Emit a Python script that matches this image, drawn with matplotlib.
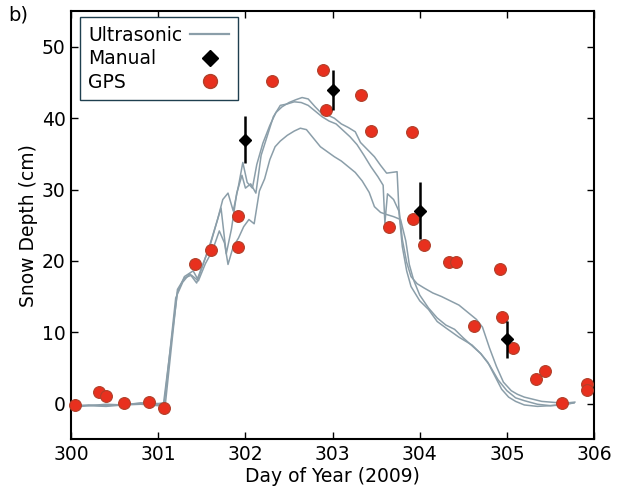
import matplotlib
matplotlib.use('Agg')
import matplotlib.pyplot as plt
from matplotlib.lines import Line2D

# Ultrasonic sensors (three traces), day of year / snow depth in cm
days_a = [300.03, 300.2, 300.4, 300.6, 300.8, 301.0, 301.06, 301.22, 301.3, 301.4,
          301.45, 301.52, 301.6, 301.68, 301.74, 301.8, 301.86, 301.92, 301.97, 302.02,
          302.08, 302.13, 302.2, 302.28, 302.35, 302.42, 302.5, 302.58, 302.65, 302.72,
          302.8, 302.88, 302.95, 303.02, 303.1, 303.18, 303.26, 303.32, 303.4, 303.48,
          303.55, 303.62, 303.68, 303.74, 303.76, 303.8, 303.85, 303.9, 303.97, 304.05,
          304.15, 304.25, 304.35, 304.45, 304.55, 304.65, 304.72, 304.8, 304.88, 304.96,
          305.05, 305.12, 305.2, 305.3, 305.4, 305.5, 305.6, 305.7, 305.78]
depth_a = [-0.4, -0.2, -0.3, -0.1, 0.0, -0.1, 0.0, 15.6, 17.8, 18.6,
           17.5, 19.8, 22.4, 25.8, 28.6, 29.5, 27.0, 30.5, 33.8, 31.0,
           30.2, 33.5, 36.5, 39.0, 40.8, 41.6, 42.2, 42.6, 42.9, 42.7,
           41.6, 40.6, 40.4, 40.0, 39.2, 38.7, 38.1, 36.6, 35.6, 34.6,
           33.4, 32.3, 32.4, 32.5, 27.5, 23.0, 19.8, 17.8, 16.8, 16.2,
           15.5, 15.0, 14.4, 13.8, 12.8, 11.8, 10.7, 7.8, 5.2, 3.0,
           1.8, 1.3, 0.9, 0.6, 0.3, 0.2, 0.1, 0.1, 0.2]

days_b = [300.03, 300.2, 300.4, 300.6, 300.8, 301.0, 301.07, 301.2, 301.28, 301.36,
          301.44, 301.5, 301.58, 301.65, 301.72, 301.78, 301.84, 301.9, 301.96, 302.0,
          302.06, 302.12, 302.18, 302.25, 302.32, 302.4, 302.48, 302.56, 302.64, 302.72,
          302.8, 302.88, 302.96, 303.04, 303.12, 303.2, 303.28, 303.36, 303.44, 303.52,
          303.58, 303.6, 303.63, 303.7, 303.76, 303.8, 303.85, 303.9, 304.0, 304.1,
          304.2, 304.3, 304.45, 304.6, 304.7, 304.8, 304.9, 305.0, 305.1, 305.2,
          305.35, 305.5, 305.65, 305.77]
depth_b = [-0.2, -0.3, -0.1, -0.2, 0.1, 0.0, 0.1, 14.8, 17.0, 18.2,
           16.9, 19.0, 21.8, 24.6, 27.4, 21.0, 24.5, 29.5, 32.0, 30.2,
           30.8, 29.5, 34.8, 37.5, 40.2, 41.8, 42.0, 42.3, 42.2, 41.8,
           41.0, 40.2, 39.6, 39.2, 38.3, 37.4, 36.3, 34.8, 33.2, 31.8,
           30.6, 25.3, 29.4, 28.6, 27.0, 22.0, 18.6, 16.4, 14.4, 13.2,
           11.5, 10.6, 9.3, 8.2, 7.0, 5.4, 3.3, 1.8, 0.8, 0.4,
           -0.1, -0.3, -0.1, 0.1]

days_c = [300.03, 300.2, 300.4, 300.6, 300.8, 301.0, 301.08, 301.22, 301.3, 301.38,
          301.46, 301.54, 301.62, 301.7, 301.76, 301.8, 301.86, 301.92, 301.98, 302.04,
          302.1, 302.16, 302.22, 302.28, 302.34, 302.4, 302.48, 302.56, 302.63, 302.7,
          302.78, 302.86, 302.94, 303.02, 303.1, 303.18, 303.26, 303.34, 303.42, 303.48,
          303.55, 303.62, 303.7, 303.78, 303.84, 303.88, 303.93, 304.0, 304.1, 304.2,
          304.3, 304.4, 304.5, 304.6, 304.7, 304.78, 304.86, 304.94, 305.02, 305.1,
          305.2, 305.35, 305.5, 305.65, 305.77]
depth_c = [-0.5, -0.3, -0.4, -0.2, -0.1, -0.3, -0.2, 16.0, 17.6, 18.0,
           17.2, 19.6, 21.4, 24.2, 22.5, 19.5, 22.0, 23.2, 24.8, 25.8,
           25.2, 29.8, 31.5, 34.2, 36.0, 36.8, 37.6, 38.2, 38.6, 38.4,
           37.2, 36.0, 35.3, 34.6, 34.0, 33.2, 32.4, 31.2, 29.6, 27.6,
           26.8, 26.5, 26.2, 25.8, 22.8, 19.5, 17.3, 15.2, 13.4, 12.0,
           11.0, 10.4, 9.2, 8.1, 7.0, 5.8, 3.9, 2.0, 0.9, 0.3,
           -0.2, -0.4, -0.3, -0.2, 0.1]

# Manual measurements with error bars
manual_day = [302.0, 303.0, 304.0, 305.0]
manual_depth = [37.0, 44.0, 27.0, 9.0]
manual_err = [3.3, 2.8, 4.0, 2.6]

# GPS estimates
gps_day = [300.05, 300.32, 300.40, 300.61, 300.89, 301.06, 301.42, 301.61, 301.91, 301.91,
           302.31, 302.89, 302.92, 303.33, 303.44, 303.65, 303.91, 303.92, 304.05, 304.34,
           304.42, 304.92, 304.62, 304.94, 305.07, 305.33, 305.44, 305.63, 305.92, 305.92]
gps_depth = [-0.2, 1.6, 1.0, 0.1, 0.2, -0.6, 19.5, 21.5, 26.3, 22.0,
             45.2, 46.8, 41.1, 43.2, 38.2, 24.8, 38.1, 25.9, 22.2, 19.8,
             19.8, 18.9, 10.8, 12.1, 7.8, 3.4, 4.5, 0.1, 2.8, 1.9]

line_color = '#8b9ea9'
gps_face = '#e8301e'
gps_edge = '#b0402a'
fs = 13.5

fig = plt.figure(figsize=(6.24, 4.88), dpi=100)
ax = fig.add_axes([0.114, 0.100, 0.838, 0.877])

for d, v in [(days_a, depth_a), (days_b, depth_b), (days_c, depth_c)]:
    ax.plot(d, v, color=line_color, lw=1.1, zorder=2)

ax.errorbar(manual_day, manual_depth, yerr=manual_err, fmt='D', color='black',
            ms=6.5, elinewidth=1.8, capsize=0, zorder=4)
ax.plot(gps_day, gps_depth, 'o', ms=8.5, mfc=gps_face, mec=gps_edge, mew=0.8,
        zorder=3, clip_on=False)

ax.set_xlim(300, 306)
ax.set_ylim(-5, 55)
ax.set_xticks([300, 301, 302, 303, 304, 305, 306])
ax.set_yticks([0, 10, 20, 30, 40, 50])
ax.tick_params(direction='in', top=True, right=True, length=5, width=1,
               labelsize=fs, pad=4)
for s in ax.spines.values():
    s.set_linewidth(1.5)

ax.set_xlabel('Day of Year (2009)', fontsize=fs, labelpad=2)
ax.set_ylabel('Snow Depth (cm)', fontsize=fs, labelpad=3)

handles = [
    Line2D([], [], color=line_color, lw=1.6),
    Line2D([], [], marker='D', ls='none', color='black', ms=8),
    Line2D([], [], marker='o', ls='none', ms=10, mfc=gps_face, mec=gps_edge),
]
leg = ax.legend(handles, ['Ultrasonic', 'Manual', 'GPS'], loc='upper left',
                bbox_to_anchor=(0.017, 0.986), borderaxespad=0,
                fontsize=fs, markerfirst=False, fancybox=False, framealpha=1,
                edgecolor='#1f3f4f', labelspacing=0.25,
                handlelength=2.1, handletextpad=0.4, borderpad=0.45)
leg.get_frame().set_linewidth(1.0)

# left-align labels while keeping the handles in one right-hand column
for col in leg._legend_handle_box.get_children():
    for item in col.get_children():
        item.mode = 'expand'
        item.width = 141

fig.text(0.013, 0.988, 'b)', fontsize=14, ha='left', va='top')

fig.savefig('out.png', dpi=100)
